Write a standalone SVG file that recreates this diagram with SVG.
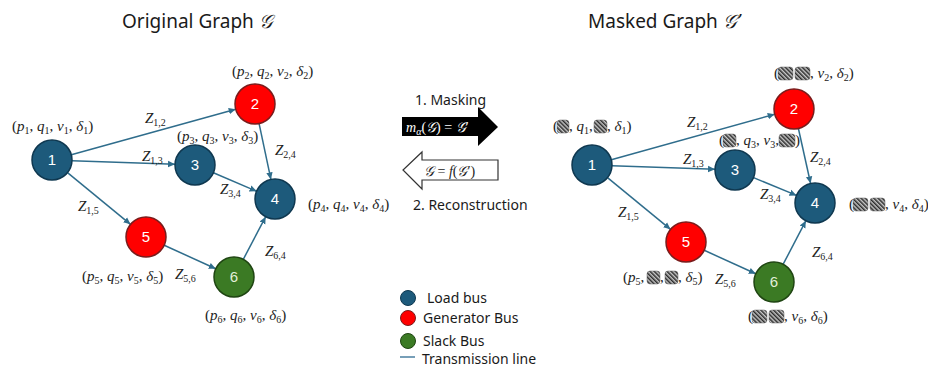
<svg xmlns="http://www.w3.org/2000/svg" width="928" height="367" viewBox="0 0 928 367">
<style>
.title{font-family:"Noto Sans","Liberation Sans",sans-serif;font-size:19px;fill:#1a1a1a}
.scr{font-family:"DejaVu Serif","DejaVu Sans",serif;font-style:italic}
.m{font-family:"Liberation Serif","DejaVu Serif",serif;font-size:15px;fill:#222}
.i{font-style:italic}
.s{font-size:10px;baseline-shift:-3px;font-style:normal}
.z{font-family:"Liberation Serif","DejaVu Serif",serif;font-size:15px;font-style:italic;fill:#222}
.zs{font-size:10px;baseline-shift:-3px;font-style:normal}
.load{fill:#1d5a7b;stroke:#0f3850;stroke-width:1.5}
.gen{fill:#ff0000;stroke:#7a1c1c;stroke-width:1.5}
.slack{fill:#3b7a24;stroke:#1f4512;stroke-width:1.5}
.num{font-family:"Liberation Sans",Arial,sans-serif;font-size:15px;fill:#fff;text-anchor:middle}
.edge{stroke:#2f6d8c;stroke-width:1.5;fill:none;marker-end:url(#ah)}
.lab{font-family:"Noto Sans","Liberation Sans",sans-serif;font-size:14px;fill:#1a1a1a}
.hb{fill:url(#hatch);stroke:#666;stroke-width:0.5}
</style>
<defs>
<marker id="ah" markerWidth="8" markerHeight="8" refX="7" refY="4" orient="auto" markerUnits="userSpaceOnUse">
<path d="M0,0.8 L7,4 L0,7.2 Z" fill="#2f6d8c"/>
</marker>
<pattern id="hatch" patternUnits="userSpaceOnUse" width="3" height="3" patternTransform="rotate(-45)">
<rect width="3" height="3" fill="#c8c8c8"/>
<rect width="1.5" height="3" fill="#2a2a2a"/>
</pattern>
</defs>
<rect width="928" height="367" fill="#fff"/>

<text class="title" x="122" y="28">Original Graph <tspan class="scr">𝒢</tspan></text>
<text class="title" x="588" y="28">Masked Graph <tspan class="scr">𝒢’</tspan></text>

<g id="connectors-left">
<line class="edge" x1="71.3" y1="154.7" x2="235.7" y2="109.3"/>
<line class="edge" x1="72" y1="160.7" x2="175" y2="164.3"/>
<line class="edge" x1="67.5" y1="172.7" x2="130.5" y2="224.3"/>
<line class="edge" x1="259.1" y1="123.6" x2="270.9" y2="179.4"/>
<line class="edge" x1="213.4" y1="172.8" x2="256.6" y2="191.2"/>
<line class="edge" x1="164.2" y1="245.3" x2="215.8" y2="268.7"/>
<line class="edge" x1="243.3" y1="259.3" x2="265.7" y2="216.7"/>
</g>
<g id="connectors-right">
<line class="edge" x1="611.3" y1="159.7" x2="774.7" y2="114.3"/>
<line class="edge" x1="612" y1="165.7" x2="715" y2="169.3"/>
<line class="edge" x1="607.5" y1="177.7" x2="670.5" y2="229.3"/>
<line class="edge" x1="798.4" y1="128.5" x2="810.6" y2="183.5"/>
<line class="edge" x1="753.5" y1="177.6" x2="796.5" y2="195.4"/>
<line class="edge" x1="704.2" y1="250.3" x2="755.8" y2="273.7"/>
<line class="edge" x1="783.2" y1="264.2" x2="805.8" y2="220.8"/>
</g>

<g id="edge-labels-left">
<text class="z" x="145" y="123">Z<tspan class="zs">1,2</tspan></text>
<text class="z" x="142" y="161">Z<tspan class="zs">1,3</tspan></text>
<text class="z" x="78" y="211">Z<tspan class="zs">1,5</tspan></text>
<text class="z" x="275" y="155">Z<tspan class="zs">2,4</tspan></text>
<text class="z" x="220" y="194">Z<tspan class="zs">3,4</tspan></text>
<text class="z" x="175" y="279">Z<tspan class="zs">5,6</tspan></text>
<text class="z" x="265" y="256">Z<tspan class="zs">6,4</tspan></text>
</g>
<g id="edge-labels-right">
<text class="z" x="687" y="127">Z<tspan class="zs">1,2</tspan></text>
<text class="z" x="683" y="164">Z<tspan class="zs">1,3</tspan></text>
<text class="z" x="618" y="217">Z<tspan class="zs">1,5</tspan></text>
<text class="z" x="810" y="162">Z<tspan class="zs">2,4</tspan></text>
<text class="z" x="760" y="199">Z<tspan class="zs">3,4</tspan></text>
<text class="z" x="715" y="284">Z<tspan class="zs">5,6</tspan></text>
<text class="z" x="812" y="257">Z<tspan class="zs">6,4</tspan></text>
</g>

<g id="L-node1"><circle class="load" cx="52" cy="160" r="20"/><text class="num" x="52" y="165">1</text>
<text class="m" x="12" y="131">(<tspan class="i">p</tspan><tspan class="s">1</tspan>, <tspan class="i">q</tspan><tspan class="s">1</tspan>, <tspan class="i">v</tspan><tspan class="s">1</tspan>, <tspan class="i">δ</tspan><tspan class="s">1</tspan>)</text></g>
<g id="L-node2"><circle class="gen" cx="255" cy="104" r="20"/><text class="num" x="255" y="109">2</text>
<text class="m" x="232" y="76">(<tspan class="i">p</tspan><tspan class="s">2</tspan>, <tspan class="i">q</tspan><tspan class="s">2</tspan>, <tspan class="i">v</tspan><tspan class="s">2</tspan>, <tspan class="i">δ</tspan><tspan class="s">2</tspan>)</text></g>
<g id="L-node3"><circle class="load" cx="195" cy="165" r="20"/><text class="num" x="195" y="170">3</text>
<text class="m" x="177" y="141">(<tspan class="i">p</tspan><tspan class="s">3</tspan>, <tspan class="i">q</tspan><tspan class="s">3</tspan>, <tspan class="i">v</tspan><tspan class="s">3</tspan>, <tspan class="i">δ</tspan><tspan class="s">3</tspan>)</text></g>
<g id="L-node4"><circle class="load" cx="275" cy="199" r="20"/><text class="num" x="275" y="204">4</text>
<text class="m" x="308" y="209">(<tspan class="i">p</tspan><tspan class="s">4</tspan>, <tspan class="i">q</tspan><tspan class="s">4</tspan>, <tspan class="i">v</tspan><tspan class="s">4</tspan>, <tspan class="i">δ</tspan><tspan class="s">4</tspan>)</text></g>
<g id="L-node5"><circle class="gen" cx="146" cy="237" r="20"/><text class="num" x="146" y="242">5</text>
<text class="m" x="82" y="281">(<tspan class="i">p</tspan><tspan class="s">5</tspan>, <tspan class="i">q</tspan><tspan class="s">5</tspan>, <tspan class="i">v</tspan><tspan class="s">5</tspan>, <tspan class="i">δ</tspan><tspan class="s">5</tspan>)</text></g>
<g id="L-node6"><circle class="slack" cx="234" cy="277" r="20"/><text class="num" x="234" y="282" style="fill:#e2efd9">6</text>
<text class="m" x="205" y="320">(<tspan class="i">p</tspan><tspan class="s">6</tspan>, <tspan class="i">q</tspan><tspan class="s">6</tspan>, <tspan class="i">v</tspan><tspan class="s">6</tspan>, <tspan class="i">δ</tspan><tspan class="s">6</tspan>)</text></g>

<g id="R-node1"><circle class="load" cx="592" cy="165" r="20"/><text class="num" x="592" y="170">1</text>
<text class="m" x="553" y="131">(</text><rect class="hb" x="557" y="120" width="12" height="13" rx="3"/>
<text class="m" x="569" y="131">, <tspan class="i">q</tspan><tspan class="s">1</tspan>,</text><rect class="hb" x="594" y="120" width="13" height="13" rx="3"/>
<text class="m" x="607" y="131">, <tspan class="i">δ</tspan><tspan class="s">1</tspan>)</text></g>
<g id="R-node2"><circle class="gen" cx="794" cy="109" r="20"/><text class="num" x="794" y="114">2</text>
<text class="m" x="774" y="78">(</text><rect class="hb" x="778" y="67" width="15" height="13" rx="3"/><rect class="hb" x="795" y="67" width="15" height="13" rx="3"/>
<text class="m" x="810" y="78">, <tspan class="i">v</tspan><tspan class="s">2</tspan>, <tspan class="i">δ</tspan><tspan class="s">2</tspan>)</text></g>
<g id="R-node3"><circle class="load" cx="735" cy="170" r="20"/><text class="num" x="735" y="175">3</text>
<text class="m" x="719" y="145">(</text><rect class="hb" x="723" y="134" width="13" height="13" rx="3"/>
<text class="m" x="736" y="145">, <tspan class="i">q</tspan><tspan class="s">3</tspan>, <tspan class="i">v</tspan><tspan class="s">3</tspan>,</text><rect class="hb" x="779" y="134" width="16" height="13" rx="3"/>
<text class="m" x="795" y="145">)</text></g>
<g id="R-node4"><circle class="load" cx="815" cy="203" r="20"/><text class="num" x="815" y="208">4</text>
<text class="m" x="849" y="209">(</text><rect class="hb" x="853" y="198" width="15" height="13" rx="3"/><rect class="hb" x="870" y="198" width="15" height="13" rx="3"/>
<text class="m" x="885" y="209">, <tspan class="i">v</tspan><tspan class="s">4</tspan>, <tspan class="i">δ</tspan><tspan class="s">4</tspan>)</text></g>
<g id="R-node5"><circle class="gen" cx="686" cy="242" r="20"/><text class="num" x="686" y="247">5</text>
<text class="m" x="623" y="282">(<tspan class="i">p</tspan><tspan class="s">5</tspan>,</text><rect class="hb" x="647" y="271" width="13" height="13" rx="3"/>
<text class="m" x="660" y="282">,</text><rect class="hb" x="665" y="271" width="13" height="13" rx="3"/>
<text class="m" x="678" y="282">, <tspan class="i">δ</tspan><tspan class="s">5</tspan>)</text></g>
<g id="R-node6"><circle class="slack" cx="774" cy="282" r="20"/><text class="num" x="774" y="287" style="fill:#e2efd9">6</text>
<text class="m" x="748" y="321">(</text><rect class="hb" x="752" y="310" width="15" height="13" rx="3"/><rect class="hb" x="769" y="310" width="15" height="13" rx="3"/>
<text class="m" x="784" y="321">, <tspan class="i">v</tspan><tspan class="s">6</tspan>, <tspan class="i">δ</tspan><tspan class="s">6</tspan>)</text></g>

<g id="masking">
<text class="lab" x="415" y="105">1. Masking</text>
<path d="M402,117 L478,117 L478,107 L498,127 L478,146 L478,136 L402,136 Z" fill="#000"/>
<text class="m" x="406" y="132" style="fill:#fff;font-size:14px"><tspan class="i">m</tspan><tspan class="s" style="font-style:italic">α</tspan>(<tspan class="scr">𝒢</tspan>) = <tspan class="scr">𝒢</tspan>′</text>
</g>
<g id="reconstruction">
<path d="M498,160 L422,160 L422,152 L403,170 L422,189 L422,180 L498,180 Z" fill="#fff" stroke="#333" stroke-width="1.2"/>
<text class="m" x="424" y="176" style="font-size:14px"><tspan class="scr">𝒢</tspan> = <tspan class="i">f</tspan>(<tspan class="scr">𝒢</tspan>′)</text>
<text class="lab" x="413" y="210">2. Reconstruction</text>
</g>

<g id="legend">
<circle cx="408" cy="298" r="7.5" fill="#1d5a7b" stroke="#0f3850"/>
<text class="lab" x="427" y="303">Load bus</text>
<circle cx="408" cy="318" r="7.5" fill="#ff0000" stroke="#7a1c1c"/>
<text class="lab" x="423" y="323">Generator Bus</text>
<circle cx="408" cy="341" r="7.5" fill="#3b7a24" stroke="#1f4512"/>
<text class="lab" x="423" y="346">Slack Bus</text>
<line x1="400" y1="357" x2="415" y2="357" stroke="#4a7fa0" stroke-width="1.5"/>
<text class="lab" x="422" y="364">Transmission line</text>
</g>
</svg>
